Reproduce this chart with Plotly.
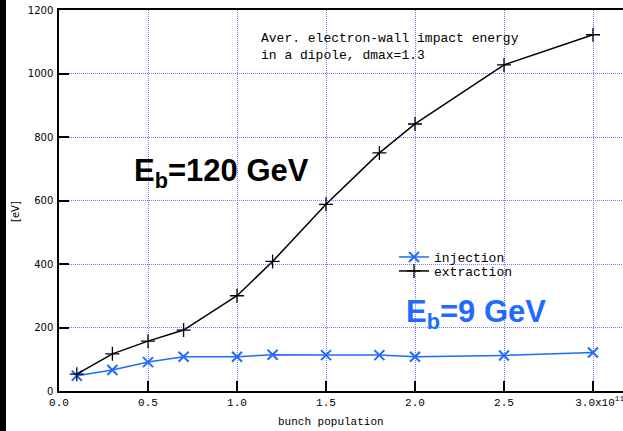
import plotly.graph_objects as go

# bunch population in units of 1e11
pop_extraction = [0.1, 0.3, 0.5, 0.7, 1.0, 1.2, 1.5, 1.8, 2.0, 2.5, 3.0]
energy_extraction = [53, 117, 157, 192, 300, 408, 588, 750, 841, 1027, 1122]

pop_injection = [0.1, 0.3, 0.5, 0.7, 1.0, 1.2, 1.5, 1.8, 2.0, 2.5, 3.0]
energy_injection = [48, 66, 91, 108, 108, 114, 113, 113, 108, 112, 121]

x_tickvals = [0.0, 0.5, 1.0, 1.5, 2.0, 2.5, 3.0]
x_ticktext = ["0.0", "0.5", "1.0", "1.5", "2.0", "2.5", "&nbsp;&nbsp;3.0x10<sup>11</sup>"]
y_tickvals = [0, 200, 400, 600, 800, 1000, 1200]

W, H = 623, 431
ML, MT, MB = 59, 10, 40
PW = W - ML
PH = H - MT - MB

BLUE = "#1f6bff"
GRID = "#7a7aff"
MONO = "Liberation Mono, Courier New, monospace"
SANS = "DejaVu Sans, Verdana, sans-serif"
BOLD = "Liberation Sans, Arial, sans-serif"


def xp(px):
    return (px - ML) / PW


def yp(py):
    return (H - MB - py) / PH


fig = go.Figure()
fig.add_trace(go.Scatter(
    x=pop_injection, y=energy_injection, mode="lines+markers", name="injection",
    legend="legend",
    line=dict(color=BLUE, width=1.5),
    marker=dict(symbol="x-thin", size=10, line=dict(color=BLUE, width=2)),
))
fig.add_trace(go.Scatter(
    x=pop_extraction, y=energy_extraction, mode="lines+markers", name="extraction",
    legend="legend2",
    line=dict(color="black", width=1.5),
    marker=dict(symbol="cross-thin", size=10, line=dict(color="black", width=1.3)),
))

fig.update_xaxes(
    range=[0, PW / 178.0], tickvals=x_tickvals, ticktext=x_ticktext,
    ticks="inside", ticklen=10, tickwidth=1.5, tickcolor="black",
    showline=True, linecolor="black", linewidth=1.5, mirror=True,
    showgrid=True, gridcolor=GRID, gridwidth=1, griddash="1px,1px",
    zeroline=False, tickfont=dict(family=MONO, size=11, color="black"),
    ticklabeloverflow="allow",
)
fig.update_yaxes(
    range=[0, 1200], tickvals=y_tickvals,
    ticks="inside", ticklen=10, tickwidth=1.5, tickcolor="black",
    showline=True, linecolor="black", linewidth=1.5, mirror=False,
    showgrid=True, gridcolor=GRID, gridwidth=1, griddash="1px,1px",
    zeroline=False, tickfont=dict(family=SANS, size=10, color="black"),
    ticklabelstandoff=2,
)

annotations = [
    dict(x=xp(259), y=yp(29), xanchor="left", yanchor="top", align="left",
         text="Aver. electron-wall impact energy<br>in a dipole, dmax=1.3",
         font=dict(family=MONO, size=13, color="black")),
    dict(x=xp(132), y=yp(173), xanchor="left", yanchor="middle",
         text="<b>E<sub>b</sub>=120 GeV</b>",
         font=dict(family=BOLD, size=31, color="black")),
    dict(x=xp(404), y=yp(314), xanchor="left", yanchor="middle",
         text="<b>E<sub>b</sub>=9 GeV</b>",
         font=dict(family=BOLD, size=31, color=BLUE)),
    dict(x=xp(331), y=yp(422), xanchor="center", yanchor="middle",
         text="bunch population", font=dict(family=MONO, size=11, color="black")),
    dict(x=xp(15), y=yp(212), xanchor="center", yanchor="middle", textangle=-90,
         text="[eV]", font=dict(family=SANS, size=10, color="black")),
]
for a in annotations:
    a.update(xref="paper", yref="paper", showarrow=False)

legend_style = dict(xanchor="left", yanchor="middle", bgcolor="rgba(0,0,0,0)",
                    itemwidth=30, borderwidth=0,
                    font=dict(family=MONO, size=13, color="black"))

fig.update_layout(
    width=W, height=H,
    margin=dict(l=ML, r=0, t=MT, b=MB),
    paper_bgcolor="white", plot_bgcolor="white",
    annotations=annotations,
    showlegend=True,
    legend=dict(x=xp(394), y=yp(257), **legend_style),
    legend2=dict(x=xp(394), y=yp(271), **legend_style),
    shapes=[dict(type="rect", xref="paper", yref="paper",
                 x0=xp(0), x1=xp(6), y0=yp(H), y1=yp(0),
                 fillcolor="black", line=dict(width=0), layer="above")],
)

fig.write_html("out.html")
